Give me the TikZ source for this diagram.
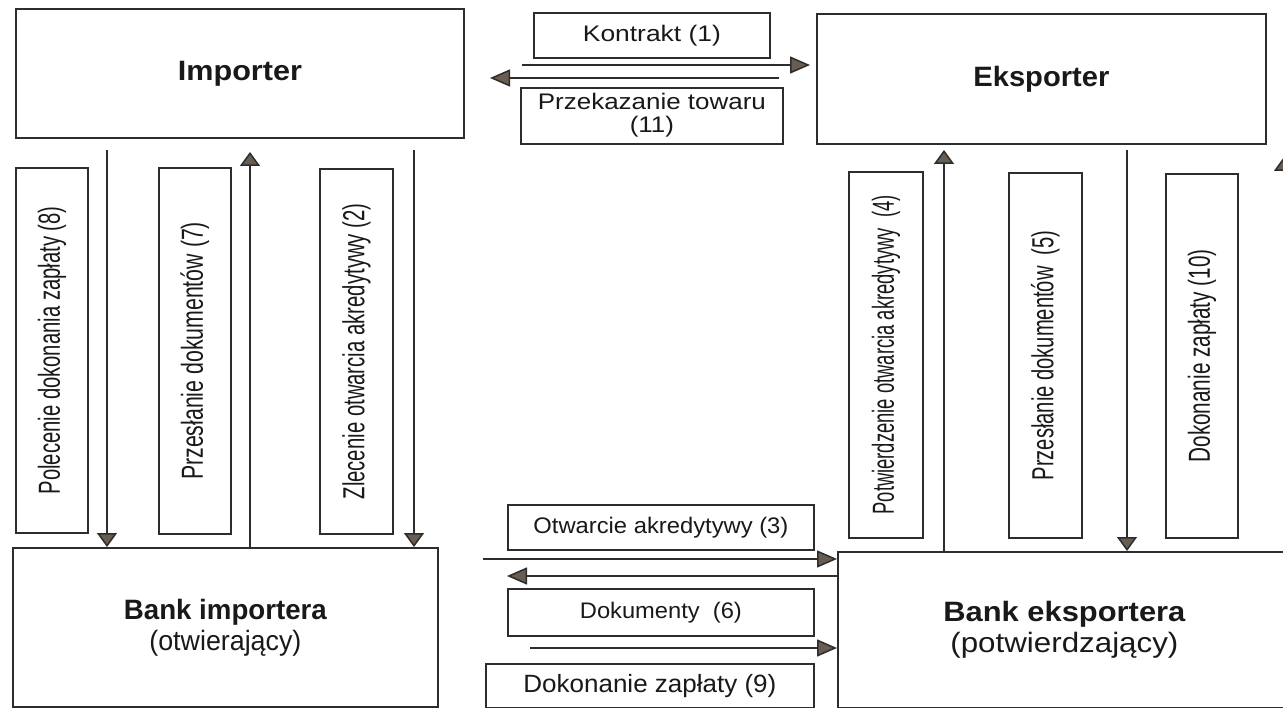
\documentclass[tikz,border=0pt]{standalone}
\usepackage{fontspec}
\setmainfont{Liberation Sans}
\usetikzlibrary{arrows.meta}
\definecolor{tipcol}{RGB}{105,92,80}
\definecolor{linecol}{RGB}{45,45,45}
\definecolor{txtcol}{RGB}{25,25,25}
\newcommand\hlab[2]{\resizebox{#1pt}{\height}{#2}}
\newcommand\vlab[2]{\scalebox{1.45}[1]{\rotatebox{90}{\resizebox{#1pt}{\height}{#2}}}}
\begin{document}
\begin{tikzpicture}[x=1pt,y=-1pt,
  box/.style={draw=linecol,line width=1.8pt,inner sep=0pt,anchor=north west,align=center,text=txtcol},
  small/.style={font=\fontsize{22.5}{21}\selectfont},
  vert/.style={font=\fontsize{21}{24}\selectfont},
  big/.style={font=\fontsize{28}{31}\selectfont},
  conn/.style={draw=linecol,line width=1.5pt},
  harr/.style={conn,-{Triangle[length=20pt,width=17pt,fill=tipcol]}},
  varr/.style={conn,-{Triangle[length=14pt,width=20pt,fill=tipcol]}}]
\useasboundingbox[fill=white] (0,0) rectangle (1283,708);

% main boxes
\node[box,big,minimum width=448pt,minimum height=129pt] (imp) at (15,8) {\textbf{\hlab{124}{Importer}}};
\node[box,big,minimum width=449pt,minimum height=130pt] (eksp) at (816,13) {\textbf{\hlab{136}{Eksporter}}};
\node[box,big,minimum width=425pt,minimum height=159pt] (bimp) at (12,547) {\textbf{\hlab{203}{Bank importera}}\\\hlab{152}{(otwierający)}};
\node[box,big,minimum width=453pt,minimum height=156pt] (beksp) at (837,551) {\textbf{\hlab{242}{Bank eksportera}}\\\hlab{228}{(potwierdzający)}};

% top labels
\node[box,small,minimum width=236pt,minimum height=45pt] (kon) at (533,12) {\hlab{138}{Kontrakt (1)}};
\node[box,small,minimum width=262pt,minimum height=56pt] (prz) at (520,87) {\resizebox{228pt}{\height}{\begin{tabular}{@{}c@{}}Przekazanie towaru\\(11)\end{tabular}}};

% bottom labels
\node[box,small,minimum width=306pt,minimum height=45pt] (otw) at (507,504) {\hlab{255}{Otwarcie akredytywy (3)}};
\node[box,small,minimum width=306pt,minimum height=47pt] (dok) at (507,588) {\hlab{162}{Dokumenty\ \ (6)}};
\node[box,font=\fontsize{25}{28}\selectfont,minimum width=328pt,minimum height=44pt] (zap) at (485,663) {\hlab{253}{Dokonanie zapłaty (9)}};

% vertical labels left
\node[box,vert,minimum width=72pt,minimum height=365pt] (b8) at (15,167) {\vlab{288}{Polecenie dokonania zapłaty (8)}};
\node[box,vert,minimum width=72pt,minimum height=366pt] (b7) at (158,167) {\vlab{258}{Przesłanie dokumentów (7)}};
\node[box,vert,minimum width=73pt,minimum height=365pt] (b2) at (319,168) {\vlab{296}{Zlecenie otwarcia akredytywy (2)}};

% vertical labels right
\node[box,vert,minimum width=74pt,minimum height=366pt] (b4) at (848,171) {\vlab{319}{Potwierdzenie otwarcia akredytywy\ \ (4)}};
\node[box,vert,minimum width=73pt,minimum height=365pt] (b5) at (1008,172) {\vlab{250}{Przesłanie dokumentów\ \ (5)}};
\node[box,vert,minimum width=72pt,minimum height=364pt] (b10) at (1165,173) {\vlab{213}{Dokonanie zapłaty (10)}};

% free ends
\coordinate (c1) at (522,65);
\coordinate (c11) at (490,78);
\coordinate (c8) at (107,150);
\coordinate (c7) at (250,152);
\coordinate (c2) at (414,150);
\coordinate (c3) at (483,559);
\coordinate (c6) at (507,576);
\coordinate (c9) at (530,648);
\coordinate (c4) at (944,150);
\coordinate (c5) at (1127,150);
\coordinate (c10) at (1284,157);

% connectors
\draw[harr,shorten >=6pt] (c1) -- (c1 -| eksp.west);
\draw[harr] (kon.south east |- c11) ++(8,0) coordinate (c11s) (c11s) -- (c11);
\draw[varr] (c8) -- (c8 |- bimp.north);
\draw[varr] (c7 |- bimp.north) -- (c7);
\draw[varr] (c2) -- (c2 |- bimp.north);
\draw[harr] (c3) -- (c3 -| beksp.west);
\draw[harr] (c6 -| beksp.west) -- (c6);
\draw[harr] (c9) -- (c9 -| beksp.west);
\draw[varr] (c4 |- beksp.north) -- (c4);
\draw[varr] (c5) -- (c5 |- beksp.north);
\draw[varr] (c10 |- beksp.north) -- (c10);
\end{tikzpicture}
\end{document}
